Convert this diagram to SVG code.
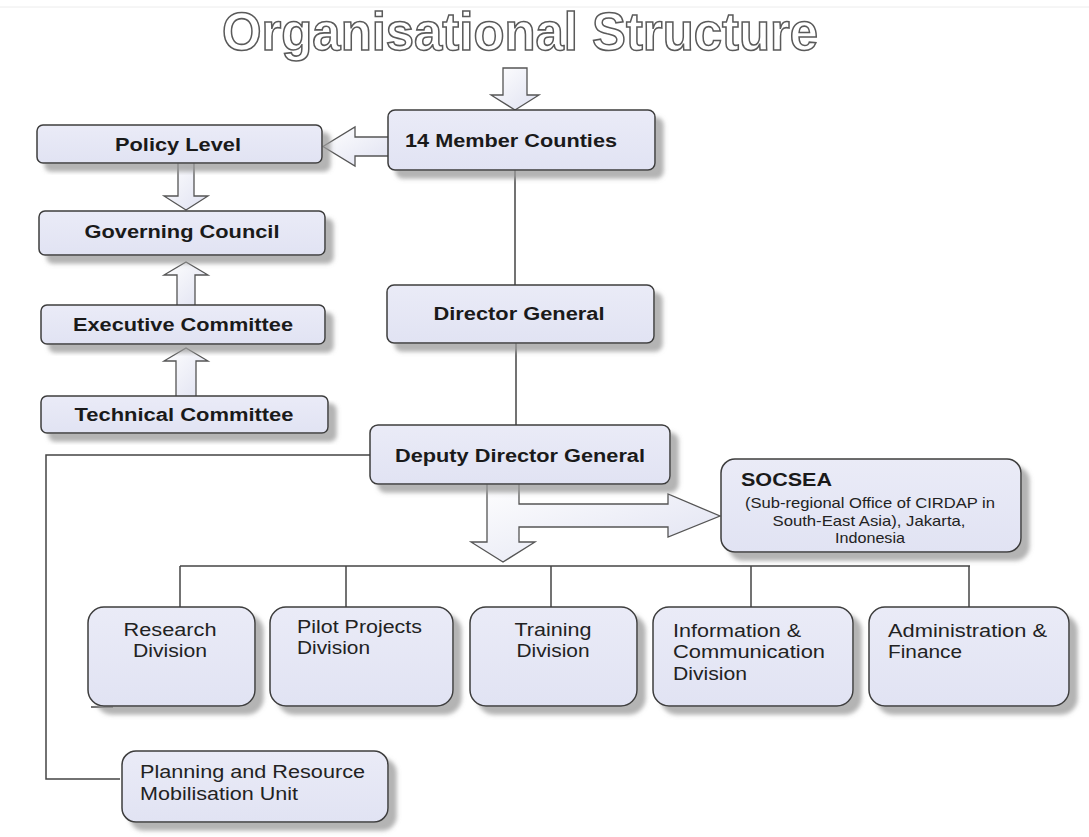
<svg xmlns="http://www.w3.org/2000/svg" width="1089" height="837" viewBox="0 0 1089 837">
<defs>
<filter id="sh" x="-10%" y="-10%" width="130%" height="140%">
<feGaussianBlur in="SourceAlpha" stdDeviation="2"/>
<feOffset dx="8" dy="8" result="o"/>
<feFlood flood-color="#9a9a9a" flood-opacity="0.75"/>
<feComposite in2="o" operator="in"/>
<feMerge><feMergeNode/><feMergeNode in="SourceGraphic"/></feMerge>
</filter>
<linearGradient id="ag" x1="0" y1="0" x2="1" y2="1">
<stop offset="0" stop-color="#ffffff"/>
<stop offset="1" stop-color="#dfe1f1"/>
</linearGradient>
<linearGradient id="bg" x1="0" y1="0" x2="0" y2="1">
<stop offset="0" stop-color="#eaebf7"/>
<stop offset="1" stop-color="#e1e3f3"/>
</linearGradient>
</defs>
<style>
.box{fill:url(#bg);stroke:#3c3c3c;stroke-width:1.5;filter:url(#sh)}
.ln{fill:none;stroke:#444;stroke-width:1.5}
.ar{fill:url(#ag);stroke:#555;stroke-width:1.3;stroke-linejoin:miter}
.b{font-family:"Liberation Sans",Arial,sans-serif;font-weight:bold;font-size:17.5px;fill:#1a1a1a}
.r{font-family:"Liberation Sans",Arial,sans-serif;font-size:17.5px;fill:#222}
.s{font-family:"Liberation Sans",Arial,sans-serif;font-size:15px;fill:#222}
.t{font-family:"Liberation Sans",Arial,sans-serif;font-weight:bold;font-size:54px;fill:#ffffff;stroke:#5a5a5a;stroke-width:1.6}
</style>
<rect x="0" y="0" width="1089" height="837" fill="#ffffff"/>
<line x1="0" y1="7" x2="1089" y2="7" stroke="#ececec" stroke-width="1"/>
<text class="t" x="520" y="50" text-anchor="middle" textLength="596" lengthAdjust="spacingAndGlyphs">Organisational Structure</text>

<g id="connectors">
<polygon class="ar" points="503,68 527,68 527,95 539,95 515,110 491,95 503,95"/>
<polygon class="ar" points="390,137 355,137 355,127 323,146.5 355,166 355,156 390,156"/>
<polygon class="ar" points="178,161 194,161 194,196 208,196 186,210 164,196 178,196"/>
<polygon class="ar" points="177,307 195,307 195,275 208,275 186,262 164,275 177,275"/>
<polygon class="ar" points="176,398 196,398 196,361 208,361 186,348 164,361 176,361"/>
<line class="ln" x1="515" y1="170" x2="515" y2="285"/>
<line class="ln" x1="516" y1="343" x2="516" y2="425"/>
<polyline class="ln" points="370,455 46,455 46,779 120,779"/>
<path class="ar" d="M487,482 L487,542 L471,542 L503,562 L535,542 L519,542 L519,527 L668,527 L668,537 L720,516 L668,494 L668,504 L519,504 L519,482 Z"/>
<line class="ln" x1="180" y1="566" x2="970" y2="566"/>
<line class="ln" x1="180" y1="566" x2="180" y2="607"/>
<line class="ln" x1="346" y1="566" x2="346" y2="607"/>
<line class="ln" x1="551" y1="566" x2="551" y2="607"/>
<line class="ln" x1="751" y1="566" x2="751" y2="607"/>
<line class="ln" x1="969" y1="566" x2="969" y2="607"/>
<line class="ln" x1="91" y1="707" x2="113" y2="707"/>
</g>

<g id="member">
<rect class="box" x="388" y="110" width="267" height="60" rx="7"/>
<text class="b" x="405" y="147" textLength="212" lengthAdjust="spacingAndGlyphs">14 Member Counties</text>
</g>
<g id="policy">
<rect class="box" x="37" y="125" width="285" height="38" rx="6"/>
<text class="b" x="178" y="151" text-anchor="middle" textLength="126" lengthAdjust="spacingAndGlyphs">Policy Level</text>
</g>
<g id="governing">
<rect class="box" x="39" y="211" width="286" height="44" rx="6"/>
<text class="b" x="182" y="238" text-anchor="middle" textLength="195" lengthAdjust="spacingAndGlyphs">Governing Council</text>
</g>
<g id="executive">
<rect class="box" x="41" y="305" width="284" height="39" rx="6"/>
<text class="b" x="183" y="331" text-anchor="middle" textLength="220" lengthAdjust="spacingAndGlyphs">Executive Committee</text>
</g>
<g id="technical">
<rect class="box" x="41" y="396" width="287" height="37" rx="6"/>
<text class="b" x="184" y="421" text-anchor="middle" textLength="219" lengthAdjust="spacingAndGlyphs">Technical Committee</text>
</g>
<g id="director">
<rect class="box" x="387" y="285" width="267" height="58" rx="7"/>
<text class="b" x="519" y="320" text-anchor="middle" textLength="171" lengthAdjust="spacingAndGlyphs">Director General</text>
</g>
<g id="deputy">
<rect class="box" x="370" y="425" width="300" height="59" rx="8"/>
<text class="b" x="520" y="462" text-anchor="middle" textLength="250" lengthAdjust="spacingAndGlyphs">Deputy Director General</text>
</g>
<g id="socsea">
<rect class="box" x="721" y="459" width="300" height="93" rx="14"/>
<text class="b" x="741" y="486" textLength="91" lengthAdjust="spacingAndGlyphs">SOCSEA</text>
<text class="s" x="870" y="508" text-anchor="middle" textLength="250" lengthAdjust="spacingAndGlyphs">(Sub-regional Office of CIRDAP in</text>
<text class="s" x="869" y="526" text-anchor="middle" textLength="193" lengthAdjust="spacingAndGlyphs">South-East Asia), Jakarta,</text>
<text class="s" x="870" y="543" text-anchor="middle" textLength="70" lengthAdjust="spacingAndGlyphs">Indonesia</text>
</g>
<g id="research">
<rect class="box" x="88" y="607" width="167" height="99" rx="16"/>
<text class="r" x="170" y="636" text-anchor="middle" textLength="93" lengthAdjust="spacingAndGlyphs">Research</text>
<text class="r" x="170" y="657" text-anchor="middle" textLength="74" lengthAdjust="spacingAndGlyphs">Division</text>
</g>
<g id="pilot">
<rect class="box" x="270" y="607" width="183" height="99" rx="16"/>
<text class="r" x="297" y="633" textLength="125" lengthAdjust="spacingAndGlyphs">Pilot Projects</text>
<text class="r" x="297" y="654" textLength="73" lengthAdjust="spacingAndGlyphs">Division</text>
</g>
<g id="training">
<rect class="box" x="470" y="607" width="167" height="99" rx="16"/>
<text class="r" x="553" y="636" text-anchor="middle" textLength="77" lengthAdjust="spacingAndGlyphs">Training</text>
<text class="r" x="553" y="657" text-anchor="middle" textLength="73" lengthAdjust="spacingAndGlyphs">Division</text>
</g>
<g id="info">
<rect class="box" x="653" y="607" width="200" height="99" rx="16"/>
<text class="r" x="673" y="637" textLength="128" lengthAdjust="spacingAndGlyphs">Information &amp;</text>
<text class="r" x="673" y="658" textLength="152" lengthAdjust="spacingAndGlyphs">Communication</text>
<text class="r" x="673" y="680" textLength="74" lengthAdjust="spacingAndGlyphs">Division</text>
</g>
<g id="admin">
<rect class="box" x="869" y="607" width="200" height="99" rx="16"/>
<text class="r" x="888" y="637" textLength="159" lengthAdjust="spacingAndGlyphs">Administration &amp;</text>
<text class="r" x="888" y="658" textLength="74" lengthAdjust="spacingAndGlyphs">Finance</text>
</g>
<g id="planning">
<rect class="box" x="122" y="751" width="266" height="71" rx="14"/>
<text class="r" x="140" y="778" textLength="225" lengthAdjust="spacingAndGlyphs">Planning and Resource</text>
<text class="r" x="140" y="800" textLength="158" lengthAdjust="spacingAndGlyphs">Mobilisation Unit</text>
</g>
</svg>
